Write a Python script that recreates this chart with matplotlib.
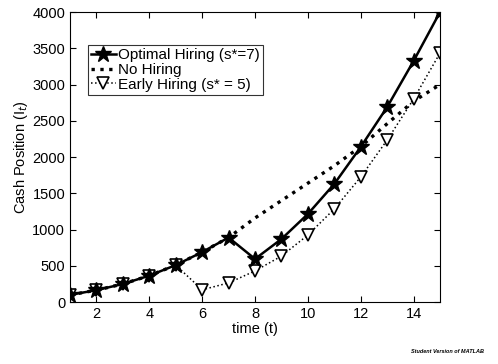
import matplotlib
matplotlib.use("Agg")
import matplotlib.pyplot as plt

plt.rcParams['font.family'] = ['Liberation Sans', 'DejaVu Sans']

# data
t = list(range(1, 16))
optimal = [100, 165, 250, 365, 510, 690, 890, 595, 870, 1215, 1630, 2140, 2690, 3325, 4000]
no_hiring = [100, 165, 250, 365, 510, 690, 890, 1160, 1400, 1640, 1880, 2145, 2460, 2770, 3000]
t_early = list(range(1, 16))
early = [100, 165, 250, 365, 510, 170, 265, 430, 635, 925, 1285, 1725, 2235, 2800, 3435]

fig = plt.figure(figsize=(4.98, 3.64), dpi=100)
ax = fig.add_axes([0.1406, 0.170, 0.743, 0.797])

ax.plot(t, optimal, '-', color='black', lw=1.8, marker='*', ms=12,
        label='Optimal Hiring (s*=7)', zorder=3)
ax.plot(t, no_hiring, ':', color='black', lw=2.4, label='No Hiring', zorder=2)
ax.plot(t_early, early, ':', color='black', lw=1.1, marker='v', ms=8,
        mfc='white', mec='black', mew=1.2, label='Early Hiring (s* = 5)', zorder=2)

ax.set_xlim(1, 15)
ax.set_ylim(0, 4000)
ax.set_xticks([2, 4, 6, 8, 10, 12, 14])
ax.set_yticks(range(0, 4001, 500))
ax.tick_params(direction='in', top=True, right=True, labelsize=10.5, length=4)
ax.set_xlabel('time (t)', fontsize=10.5, labelpad=1)
ax.set_ylabel('Cash Position (I$_t$)', fontsize=10.5, labelpad=2)

leg = ax.legend(loc='upper left', bbox_to_anchor=(0.049, 0.886), fontsize=11,
                frameon=True, fancybox=False, edgecolor='black',
                handlelength=1.6, handletextpad=0.15, borderpad=0.2,
                labelspacing=0.05, borderaxespad=0)
leg.get_frame().set_linewidth(0.8)

fig.text(0.825, 0.03, 'Student Version of MATLAB', fontsize=4,
         fontweight='bold', style='italic', ha='left')

fig.savefig('out.png', dpi=100)
